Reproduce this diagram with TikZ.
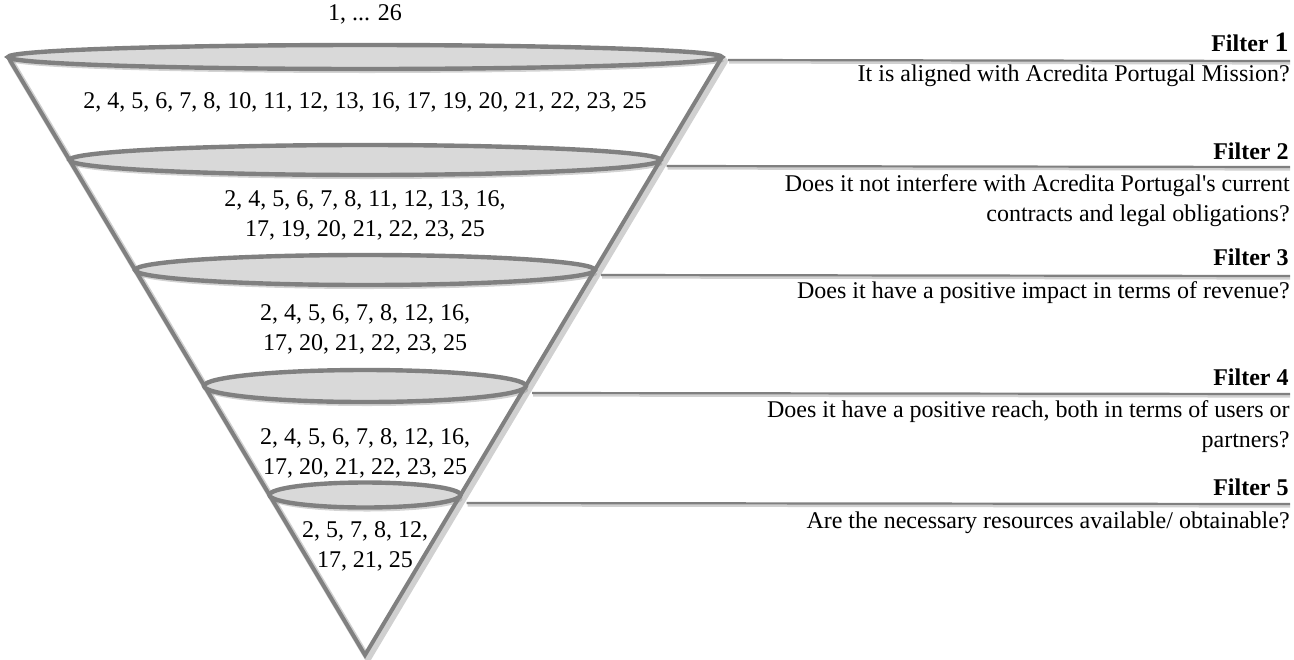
\documentclass[tikz,border=0pt]{standalone}
\usepackage{fontspec}
\setmainfont{Liberation Serif}
\usetikzlibrary{shapes.geometric,shadows}
\definecolor{funnelgray}{HTML}{808080}
\definecolor{discfill}{HTML}{D9D9D9}
\definecolor{shadowgray}{HTML}{D0D0D0}
\begin{document}
\begin{tikzpicture}[x=0.5pt,y=-0.5pt,
  disc/.style={ellipse,draw=funnelgray,fill=discfill,line width=2.2pt,inner sep=0pt,outer sep=0pt,
    drop shadow={shadow xshift=1pt,shadow yshift=-2pt,opacity=0.35,fill=black!50}},
  side/.style={draw=funnelgray,line width=2pt},
  sideshadow/.style={draw=shadowgray,line width=3pt,line cap=round},
  fline/.style={draw=funnelgray,line width=1.1pt},
  flineshadow/.style={draw=shadowgray,line width=1.6pt},
  txt/.style={font=\fontsize{12}{15}\selectfont,inner sep=0pt,align=center},
  qtxt/.style={font=\fontsize{12}{15}\selectfont,inner sep=0pt,align=right,anchor=east},
  ftxt/.style={font=\fontsize{12}{15}\selectfont\bfseries,inner sep=0pt,anchor=east}]
\useasboundingbox (0,0) rectangle (1294,659);
% coordinates
\coordinate (apex) at (365,655);
\coordinate (l1) at (8,57);
\coordinate (r1) at (722,57);
% shadows of the sides
\draw[sideshadow] ([shift={(3,4)}]l1) -- ([shift={(3,4)}]apex) -- ([shift={(3,4)}]r1);
% sides
\draw[side] (l1) -- (apex) -- (r1);
% discs (sizes in pt: 1px = 0.5pt)
\node[disc,minimum width=357pt,minimum height=12pt] (e1) at (365,57) {};
\node[disc,minimum width=295.5pt,minimum height=15pt] (e2) at (365,160) {};
\node[disc,minimum width=230pt,minimum height=15pt] (e3) at (365,270) {};
\node[disc,minimum width=161pt,minimum height=16pt] (e4) at (365,386) {};
\node[disc,minimum width=95.5pt,minimum height=12.5pt] (e5) at (365,495) {};
% filter line ends
\coordinate (f1) at (1290,61);
\coordinate (f2) at (1290,167);
\coordinate (f3) at (1290,276);
\coordinate (f4) at (1290,394);
\coordinate (f5) at (1290,504);
% filter lines with shadows
\foreach \e/\f/\dy in {e1/f1/3,e2/f2/6,e3/f3/5,e4/f4/7,e5/f5/8}{
  \draw[flineshadow] ([shift={(7,\dy+2)}]\e.east) -- ([shift={(0,2)}]\f);
  \draw[fline] ([shift={(6,\dy)}]\e.east) -- (\f);
}
% numbers
\node[txt] (n0) at (365,14) {1, ... 26};
\node[txt] (n1) at (365,102) {2, 4, 5, 6, 7, 8, 10, 11, 12, 13, 16, 17, 19, 20, 21, 22, 23, 25};
\node[txt] (n2) at (365,215) {2, 4, 5, 6, 7, 8, 11, 12, 13, 16,\\17, 19, 20, 21, 22, 23, 25};
\node[txt] (n3) at (365,329) {2, 4, 5, 6, 7, 8, 12, 16,\\17, 20, 21, 22, 23, 25};
\node[txt] (n4) at (365,453) {2, 4, 5, 6, 7, 8, 12, 16,\\17, 20, 21, 22, 23, 25};
\node[txt] (n5) at (365,546) {2, 5, 7, 8, 12,\\17, 21, 25};
% filter labels
\node[ftxt] (h1) at (1289,42) {Filter {\fontsize{14}{15}\selectfont 1}};
\node[ftxt] (h2) at (1289,151) {Filter 2};
\node[ftxt] (h3) at (1289,257) {Filter 3};
\node[ftxt] (h4) at (1289,377) {Filter 4};
\node[ftxt] (h5) at (1289,487) {Filter 5};
% questions
\node[qtxt] (q1) at (1290,76) {It is aligned with Acredita Portugal Mission?};
\node[qtxt] (q2) at (1290,201) {Does it not interfere with Acredita Portugal\textquotesingle s current\\contracts and legal obligations?};
\node[qtxt] (q3) at (1290,293) {Does it have a positive impact in terms of revenue?};
\node[qtxt] (q4) at (1290,427) {Does it have a positive reach, both in terms of users or\\partners?};
\node[qtxt] (q5) at (1290,523) {Are the necessary resources available/ obtainable?};
\end{tikzpicture}
\end{document}
